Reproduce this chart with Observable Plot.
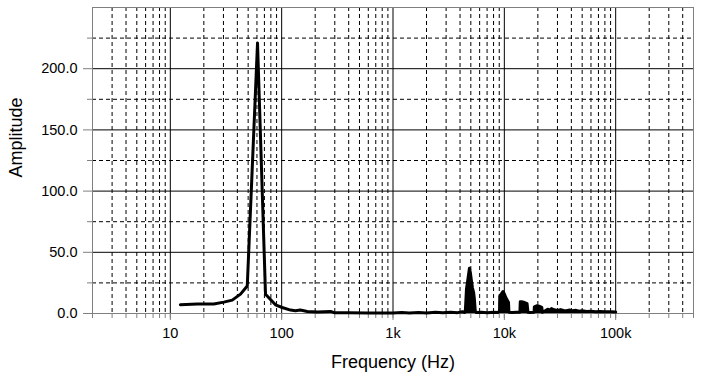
<!DOCTYPE html>
<html>
<head>
<meta charset="utf-8">
<script src="https://cdn.jsdelivr.net/npm/d3@7"></script>
<script src="https://cdn.jsdelivr.net/npm/@observablehq/plot@0.6"></script>
<style>
  html, body { margin: 0; padding: 0; background: #fff; }
  #chart svg { display: block; }
</style>
</head>
<body>
<div id="chart"></div>
<script>
// ---- data ----
const specFreq = [12.3, 17.5, 24.6, 30.2, 36, 42.7, 49.1, 60.7, 71.6, 88, 101, 120, 133, 147, 170, 209, 275, 296, 400, 600, 800,
  1000, 1200, 1400, 1700, 2000, 2400, 2800, 3300, 3800, 4200, 4400,
  4470, 4570, 4690, 4860, 4960, 5060, 5170, 5300, 5380, 5480, 5600,
  6200, 7000, 8000, 8800,
  9050, 9100, 9400, 9740, 10000, 10300, 10600, 10900, 11000,
  11800, 12800, 13800,
  13900, 14500, 15200, 16000, 16300,
  17000, 18500,
  18600, 19500, 20500, 21700, 21900,
  22500, 23500, 24500, 25500, 26500, 28000, 30000, 32000, 34000, 36000, 38000, 41000, 44000, 47000, 50000, 55000, 60000, 66000, 72000, 80000, 90000, 100000];
const specAmp = [7.1, 7.7, 7.7, 9.3, 10.9, 15.8, 22.5, 221, 15.8, 7.1, 4.9, 2.8, 2.3, 2.8, 1.7, 1.2, 1.7, 0.7, 0.6, 0.5, 0.5,
  0.5, 0.8, 0.4, 0.9, 0.5, 1.0, 0.6, 1.1, 0.7, 1.5, 0.8,
  3, 20, 27, 37, 33, 27, 21, 17, 12, 2, 0.8,
  1, 0.6, 1, 0.8,
  2, 14, 16, 18, 16, 13, 11, 9, 1,
  0.8, 1, 1,
  9.5, 9.5, 9, 8, 1,
  0.8, 1,
  5.5, 6.3, 6, 5, 1,
  1.5, 2.5, 3.5, 2.8, 4, 3, 2.5, 3.2, 2.5, 2.2, 2.8, 2.2, 2.6, 1.8, 2.2, 1.7, 1.9, 1.5, 1.7, 1.4, 1.5, 1.2];

const xDomain = [2, 500000];
const yDomain = [0, 250];
const xMajorTicks = [10, 100, 1000, 10000, 100000];
const xTickLabels = ["10", "100", "1k", "10k", "100k"];
const xMinorTicks = [2,3,4,5,6,7,8,9, 20,30,40,50,60,70,80,90, 200,300,400,500,600,700,800,900,
  2000,3000,4000,5000,6000,7000,8000,9000, 20000,30000,40000,50000,60000,70000,80000,90000,
  200000,300000,400000];
const xAllTicks = [2,3,4,5,6,7,8,9,10, 20,30,40,50,60,70,80,90,100, 200,300,400,500,600,700,800,900,1000,
  2000,3000,4000,5000,6000,7000,8000,9000,10000, 20000,30000,40000,50000,60000,70000,80000,90000,100000,
  200000,300000,400000,500000];
const yMajorTicks = [0, 50, 100, 150, 200];
const yMinorTicks = [25, 75, 125, 175, 225];
const xTitle = "Frequency (Hz)";
const yTitle = "Amplitude";

// ---- build ----
const spectrum = specFreq.map((f, i) => ({f, a: specAmp[i]}));
const highPart = spectrum.filter(d => d.f >= 1000);
const gray = "#808080";
const font = "'Liberation Sans', Arial, Helvetica, sans-serif";

const chart = Plot.plot({
  width: 701,
  height: 381,
  marginLeft: 92,
  marginRight: 8,
  marginTop: 7,
  marginBottom: 68,
  x: {type: "log", domain: xDomain},
  y: {domain: yDomain},
  style: {fontFamily: font, background: "#fff", color: "#000"},
  marks: [
    Plot.ruleX(xMinorTicks, {stroke: "#000", strokeDasharray: "4,3", strokeWidth: 1}),
    Plot.ruleY(yMinorTicks, {stroke: "#000", strokeDasharray: "4,3", strokeWidth: 1}),
    Plot.ruleX(xMajorTicks, {stroke: "#000", strokeWidth: 1}),
    Plot.ruleY(yMajorTicks.filter(d => d > 0), {stroke: "#000", strokeWidth: 1}),
    Plot.frame({stroke: gray}),
    Plot.axisX(xAllTicks, {tickSize: 5, tickFormat: () => "", stroke: gray, label: null}),
    Plot.axisX(xMajorTicks, {tickSize: 7, tickPadding: 7, tickFormat: d => xTickLabels[xMajorTicks.indexOf(d)],
      stroke: gray, fill: "#000", fontSize: 14.5, label: null}),
    Plot.axisY(yMinorTicks, {tickSize: 5, tickFormat: () => "", stroke: gray, label: null}),
    Plot.axisY(yMajorTicks, {tickSize: 9, tickPadding: 6, tickFormat: d => d.toFixed(1),
      stroke: gray, fill: "#000", fontSize: 14.5, label: null}),
    Plot.areaY(highPart, {x: "f", y: "a", fill: "#000"}),
    Plot.line(spectrum, {x: "f", y: "a", stroke: "#000", strokeWidth: 3, strokeLinejoin: "round"}),
    Plot.text([xTitle], {text: d => d, frameAnchor: "bottom", dy: 49, fontSize: 18, lineAnchor: "middle", fill: "#000"}),
    Plot.text([yTitle], {text: d => d, frameAnchor: "left", rotate: -90, dx: -76, dy: 17, fontSize: 18, lineAnchor: "middle", fill: "#000"})
  ]
});
document.getElementById("chart").appendChild(chart);
</script>
</body>
</html>
